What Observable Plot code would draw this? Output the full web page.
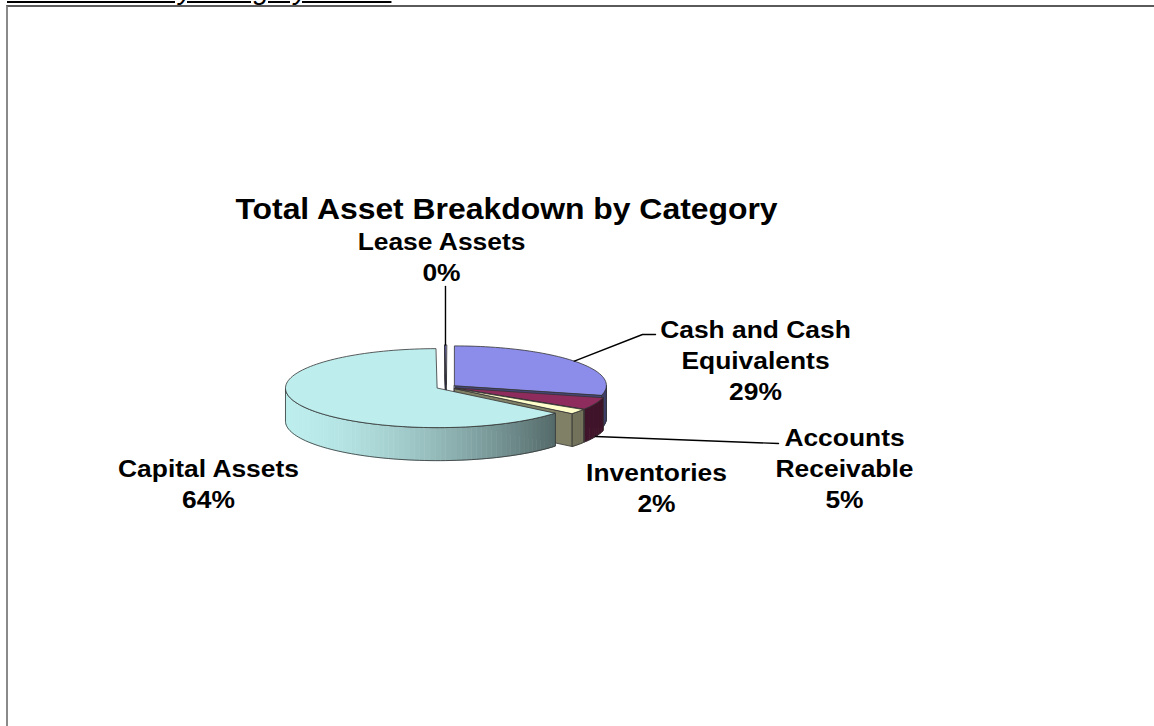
<!DOCTYPE html>
<html><head><meta charset="utf-8">
<script src="https://cdn.jsdelivr.net/npm/d3@7"></script>
<script src="https://cdn.jsdelivr.net/npm/@observablehq/plot@0.6"></script>
<style>
html,body{margin:0;padding:0;background:#fff;overflow:hidden;}
#wrap{position:relative;width:1154px;height:726px;overflow:hidden;font-family:"Liberation Sans",Arial,sans-serif;}
#top{position:absolute;left:7px;top:-24px;font-size:28px;line-height:28px;font-style:italic;text-decoration:underline;white-space:pre;color:#000;}
#frame{position:absolute;left:6px;top:5px;width:1170px;height:760px;border-left:2px solid #8a8a8a;border-top:2px solid #5a5a5a;}
#chart{position:absolute;left:0;top:0;}
</style></head><body>
<div id="wrap"><div id="top">Total assets by category 2011&nbsp;&nbsp;</div><div id="frame"></div><div id="chart"></div></div>
<script>
// ---- data ----
const categories = ["Cash and Cash Equivalents", "Accounts Receivable", "Inventories", "Capital Assets", "Lease Assets"];
const values = [29, 5, 2, 64, 0.2];
const topColors = ["#8C8CEB", "#8E2C5E", "#FFFFCC", "#BDEDED", "#5A5A9A"];
const labelText = ["Cash and Cash\nEquivalents", "Accounts\nReceivable", "Inventories", "Capital Assets", "Lease Assets"];
const chartTitle = "Total Asset Breakdown by Category";

// ---- layout ----
const W = 1154, H = 726;
const cx = 446, cy = 386.5, R = 152, RY = 39.5, D = 33, E = 10;
const labelAt = [
  {x: 755, y: 399, leader: [[642, 334], [655, 334]], drop: 0},
  {x: 844, y: 507, leader: [[778, 443]], drop: D},
  {x: 656, y: 511, leader: null},
  {x: 208, y: 507, leader: null},
  {x: 441, y: 280, leader: [[null, 286]], drop: 0}
];

const total = d3.sum(values);
let acc = 0;
const slices = categories.map((c, i) => {
  const a0 = acc / total * 2 * Math.PI; acc += values[i];
  const a1 = acc / total * 2 * Math.PI;
  const mid = (a0 + a1) / 2;
  return {i, c, a0, a1, mid, pct: Math.round(values[i] / total * 100),
    ox: cx + E * Math.sin(mid), oy: cy - E * Math.cos(mid) * RY / R};
});
const rim = (s, a, drop = 0) => [s.ox + R * Math.sin(a), s.oy - RY * Math.cos(a) + drop];
const shade = (hex, f) => { const c = d3.rgb(hex); return d3.rgb(c.r * f, c.g * f, c.b * f).formatHex(); };
const sideF = a => { const u = Math.max(0, Math.min(1, (Math.sin(a) + 1) / 1.766)); return 1 - 0.55 * Math.pow(u, 1.6); };

// side elements (painter's order)
const groups = [];
slices.forEach(s => {
  const lo = Math.max(s.a0, Math.PI / 2), hi = Math.min(s.a1, 1.5 * Math.PI);
  if (hi > lo) {
    const n = Math.max(2, Math.ceil((hi - lo) / (Math.PI / 90)));
    const items = [];
    const top = [], bot = [];
    for (let k = 0; k < n; k++) {
      const b0 = lo + (hi - lo) * k / n, b1 = lo + (hi - lo) * (k + 1) / n;
      const col = shade(topColors[s.i], sideF((b0 + b1) / 2));
      items.push({pts: [rim(s, b0), rim(s, b1), rim(s, b1, D), rim(s, b0, D)], fill: col, stroke: col});
    }
    for (let k = 0; k <= n; k++) { const b = lo + (hi - lo) * k / n; top.push(rim(s, b)); bot.push(rim(s, b, D)); }
    items.push({pts: [...top, ...bot.reverse()], fill: "none", stroke: "#333"});
    groups.push({key: d3.mean(top, p => p[1]), items});
  }
  const face = a => {
    const p = rim(s, a), q = rim(s, a, D);
    groups.push({key: (s.oy + p[1]) / 2, items: [{pts: [[s.ox, s.oy], p, q, [s.ox, s.oy + D]], fill: shade(topColors[s.i], 0.5), stroke: "#333"}]});
  };
  if (Math.sin(s.a0) < -1e-9) face(s.a0);
  if (Math.sin(s.a1) > 1e-9) face(s.a1);
});
groups.sort((a, b) => a.key - b.key);
const sideRows = [];
let pid = 0;
groups.forEach(g => g.items.forEach(it => { pid++; it.pts.forEach(p => sideRows.push({id: pid, x: p[0], y: p[1], fill: it.fill, stroke: it.stroke})); }));

const topRows = [];
slices.forEach(s => {
  pid++;
  topRows.push({id: pid, x: s.ox, y: s.oy, fill: topColors[s.i]});
  const n = Math.max(2, Math.ceil((s.a1 - s.a0) / (Math.PI / 90)));
  for (let k = 0; k <= n; k++) { const p = rim(s, s.a0 + (s.a1 - s.a0) * k / n); topRows.push({id: pid, x: p[0], y: p[1], fill: topColors[s.i]}); }
});

const leaderRows = [];
slices.forEach(s => {
  const L = labelAt[s.i];
  if (!L.leader) return;
  const p = rim(s, s.mid, L.drop);
  leaderRows.push({id: s.i, x: p[0], y: p[1]});
  L.leader.forEach(q => leaderRows.push({id: s.i, x: q[0] == null ? p[0] : q[0], y: q[1]}));
});

const plot = Plot.plot({
  width: W, height: H, margin: 0,
  x: {domain: [0, W], range: [0, W], axis: null},
  y: {domain: [0, H], range: [0, H], axis: null},
  color: {type: "identity"},
  style: {background: "transparent", fontFamily: "Liberation Sans, Arial, sans-serif"},
  marks: [
    Plot.line(sideRows, {x: "x", y: "y", z: "id", fill: "fill", stroke: "stroke", strokeWidth: 0.8, curve: "linear-closed"}),
    Plot.line(topRows, {x: "x", y: "y", z: "id", fill: "fill", stroke: "#333", strokeWidth: 0.8, curve: "linear-closed"}),
    Plot.line(leaderRows, {x: "x", y: "y", z: "id", stroke: "#000", strokeWidth: 1.4}),
    Plot.text(slices, {x: d => labelAt[d.i].x, y: d => labelAt[d.i].y, text: d => labelText[d.i] + "\n" + d.pct + "%",
      fontSize: 24, fontWeight: "bold", lineAnchor: "bottom", lineHeight: 1.28, fill: "#000", textAnchor: "middle"}),
    Plot.text([chartTitle], {x: () => 506, y: () => 218, text: d => d, fontSize: 29, fontWeight: "bold", lineAnchor: "bottom", fill: "#000", textAnchor: "middle"})
  ]
});
plot.querySelectorAll("g[aria-label='text'] text").forEach(t => {
  const tr = t.getAttribute("transform") || "";
  t.setAttribute("transform", tr + " scale(1.1,1)");
});
document.getElementById("chart").appendChild(plot);
</script>
</body></html>
